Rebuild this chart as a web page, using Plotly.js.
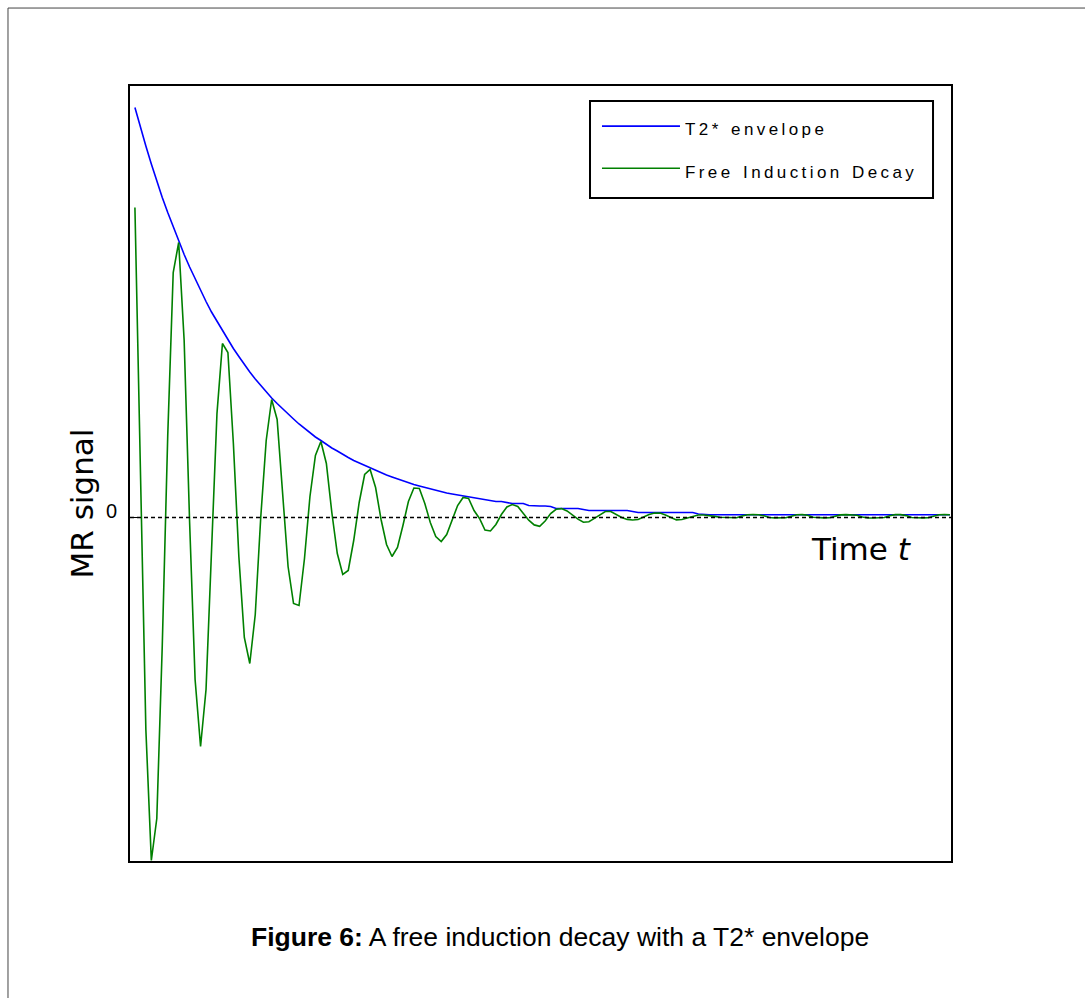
<!DOCTYPE html>
<html><head><meta charset="utf-8">
<script src="https://cdn.plot.ly/plotly-3.0.1.min.js"></script>
<style>html,body{margin:0;padding:0;background:#fff;} #chart{width:1085px;height:998px;}</style>
</head><body><div id="chart"></div>
<script>
// sample index (time axis, no numeric ticks shown)
const t = [0,1,2,3,4,5,6,7,8,9,10,11,12,13,14,15,16,17,18,19,20,21,22,23,24,25,26,27,28,29,
30,31,32,33,34,35,36,37,38,39,40,41,42,43,44,45,46,47,48,49,50,51,52,53,54,55,56,57,58,59,
60,61,62,63,64,65,66,67,68,69,70,71,72,73,74,75,76,77,78,79,80,81,82,83,84,85,86,87,88,89,
90,91,92,93,94,95,96,97,98,99,100,101,102,103,104,105,106,107,108,109,110,111,112,113,114,115,116,117,118,119,
120,121,122,123,124,125,126,127,128,129,130,131,132,133,134,135,136,137,138,139,140,141,142,143,144,145,146,147,148,149];

// T2* envelope (arbitrary signal units)
const envelope = [410,390,371.5,353.5,336.5,320,305,290.5,276.5,263,250.5,238.5,227,216,205.5,196,186.5,177.5,169,161,
153,145.5,138.5,132,125.5,119.5,114,108.5,103,98.5,93.5,89,85,80.5,77,73,69.5,66.5,63,60,
57,54.5,52,49.5,47,44.5,42.5,40.5,38.5,36.5,35,33,31.5,30,28.5,27.5,26,24.5,23.5,22.5,
21.5,20.5,20,18.5,18,16.5,16,16,15,14,14,14,12,11.5,11.5,11.5,11,9,9,9,
9,9,8,7,7,7,7,7,7,7,7,6,5,5,5,5,5,5,5,5,
5,5,5,3.5,2.8,2.8,2.8,2.8,2.8,2.8,2.8,2.8,2.8,2.8,2.8,2.8,2.8,2.8,2.8,2.8,
2.8,2.8,2.8,2.8,2.8,2.8,2.8,2.8,2.8,2.8,2.8,2.8,2.8,2.8,2.8,2.8,2.8,2.8,2.8,2.8,
2.8,2.8,2.8,2.8,2.8,2.8,2.8,2.8,2.8,2.8];

// Free induction decay (arbitrary signal units)
const fid = [310,50,-212,-343,-301,-128,82,245,275,177,-5,-162,-229,-172,-33,104,174,165,74,-39,
-120,-146,-97,0,77,118,98,23,-49,-86,-88,-41,21,62,76,54,5,-36,-57,-53,
-23,15,43,48,30,-2,-27,-39,-30,-8,16,29.5,29,14,-5,-19,-24,-17,-3,12,
20,19,7,-1,-12.5,-13.5,-7,3,10.5,13,11,4.3,-2.7,-7.4,-8.8,-3.5,3.9,8.2,8.9,6.6,
2.4,-1.6,-4.8,-4.3,-0.9,2.9,6,6,3.1,0.1,-1.9,-2.5,-2,0.5,2.9,4.4,4.4,2.5,0,-2.4,
-2,-0.5,1.3,2.5,2.5,2,1.1,0.2,0.2,-0.4,-0.2,1.5,2.8,2.9,2.8,1.8,0,-0.4,-0.4,-0.2,
1.2,2.8,2.9,2.2,0.2,-0.4,-0.4,-0.3,1,2.6,2.9,2.9,2.3,0.5,-0.4,-0.5,-0.4,0,1.8,2.9,
2.9,1.9,0,-0.4,-0.4,-0.3,1.2,2.7,2.9,2.8];

const seriesNames = ["T2* envelope", "Free Induction Decay"];
const yTickVals = [0];
const yTickText = ["0"];

// the legend of the original is drawn with widely tracked letters
function tracked(s) {
  const spaced = s.split(" ").map(w => w.split("").join("\u2009")).join("\u00a0\u2009\u00a0");
  return '<span style="font-size:17px">' + spaced + "</span>";
}

const traces = [
  {x: t, y: envelope, type: "scatter", mode: "lines", name: tracked(seriesNames[0]), legendgroup: "a",
   line: {color: "#0000ff", width: 1.6}},
  {x: t, y: fid, type: "scatter", mode: "lines", name: tracked(seriesNames[1]), legendgroup: "b",
   line: {color: "#008000", width: 1.6}}
];

const layout = {
  width: 1085, height: 998,
  margin: {l: 130, r: 134, t: 86, b: 137},
  paper_bgcolor: "#fff", plot_bgcolor: "#fff",
  showlegend: true,
  legend: {x: 0.5688, y: 0.9768, xanchor: "left", yanchor: "top",
           borderwidth: 0, bgcolor: "rgba(0,0,0,0)",
           font: {family: "Liberation Sans, Arial, sans-serif", size: 24, color: "#000"},
           itemwidth: 78, tracegroupgap: 8},
  xaxis: {range: [-0.9, 149.2], showline: true, mirror: true, linecolor: "#000", linewidth: 2,
          showgrid: false, zeroline: false, showticklabels: false, ticks: ""},
  yaxis: {range: [-343.5, 431.5], showline: true, mirror: true, linecolor: "#000", linewidth: 2,
          showgrid: false, zeroline: false, tickmode: "array", tickvals: yTickVals, ticktext: yTickText,
          ticks: "inside", ticklen: 10, tickwidth: 1.5, tickcolor: "#000",
          tickfont: {family: "Liberation Sans, Arial, sans-serif", size: 20, color: "#000"},
          ticklabelstandoff: 7, ticklabelshift: -7},
  shapes: [
    {type: "line", xref: "paper", yref: "y", x0: 0, x1: 1, y0: 0, y1: 0,
     line: {color: "#000", width: 1.5, dash: "4px,3px"}},
    {type: "rect", xref: "paper", yref: "paper", x0: 0.5603, x1: 0.9781, y0: 0.8555, y1: 0.9806,
     fillcolor: "#fff", line: {color: "#000", width: 2}, layer: "above"},
    {type: "line", xref: "paper", yref: "paper", x0: -0.1486, x1: 1.2, y0: 1.1006, y1: 1.1006,
     line: {color: "#444", width: 1}},
    {type: "line", xref: "paper", yref: "paper", x0: -0.1486, x1: -0.1486, y0: 1.1006, y1: -0.2,
     line: {color: "#444", width: 1}}
  ],
  annotations: [
    {xref: "paper", yref: "paper", x: -0.0573, y: 0.4613, text: "MR signal", textangle: -90,
     showarrow: false, xanchor: "center", yanchor: "middle",
     font: {family: "DejaVu Sans", size: 31, color: "#000"}},
    {xref: "paper", yref: "paper", x: 0.8904, y: 0.4026, text: "Time <i>t</i>",
     showarrow: false, xanchor: "center", yanchor: "middle",
     font: {family: "DejaVu Sans", size: 31, color: "#000"}},
    {xref: "paper", yref: "paper", x: 0.5237, y: -0.098,
     text: "<b>Figure 6:</b> A free induction decay with a T2* envelope",
     showarrow: false, xanchor: "center", yanchor: "middle",
     font: {family: "Liberation Sans, Arial, sans-serif", size: 26.5, color: "#000"}}
  ],
  hovermode: false
};

Plotly.newPlot("chart", traces, layout, {displayModeBar: false, staticPlot: true});
</script>
</body></html>
